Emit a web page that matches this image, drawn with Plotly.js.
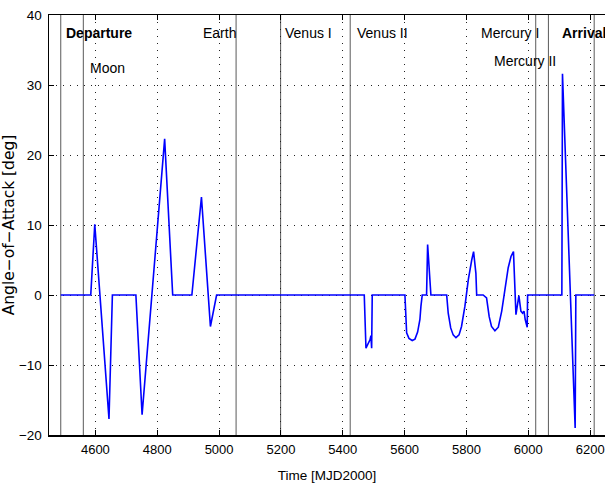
<!DOCTYPE html>
<html>
<head>
<meta charset="utf-8">
<script src="https://cdn.plot.ly/plotly-3.0.1.min.js"></script>
<style>html,body{margin:0;padding:0;background:#fff;} #chart{width:605px;height:488px;}</style>
</head>
<body>
<div id="chart"></div>
<script>
// Time [MJD2000] of the sampled angle-of-attack profile
const timeMJD = [
  4488, 4585, 4598, 4644, 4655, 4731, 4751, 4824, 4850, 4912, 4943, 4972, 4992,
  5469.5, 5475, 5482, 5488, 5491, 5493.4, 5495.3,
  5601, 5606.5, 5614, 5624.6, 5633.4, 5642, 5649.5, 5652.8, 5657,
  5671, 5674.4, 5685,
  5736, 5741, 5749, 5757, 5766, 5776, 5784, 5795, 5806, 5817, 5823, 5830.5, 5833,
  5854, 5865, 5873.5, 5881, 5892, 5903, 5914, 5924, 5935, 5944, 5952, 5960,
  5969.5, 5976, 5981.5, 5986, 5990, 5996.4, 5997.7,
  6108.5, 6110.5, 6151.5, 6153.7, 6213
];
// Angle-of-attack [deg]
const angleDeg = [
  0, 0, 10.1, -17.7, 0, 0, -17.1, 22.3, 0, 0, 14.0, -4.5, 0,
  0, -7.6, -7.0, -6.4, -5.8, -7.6, 0,
  0, -5.4, -6.2, -6.5, -6.3, -5.3, -3.5, -1.6, 0,
  0, 7.2, 0,
  0, -2.6, -4.7, -5.7, -6.1, -5.7, -4.5, -1.6, 2.2, 5.0, 6.2, 3.1, 0,
  0, -0.4, -3.1, -4.5, -5.1, -4.6, -2.3, 0.8, 3.9, 5.5, 6.2, -2.8,
  -0.1, -2.3, -2.6, -2.3, -3.5, -4.6, 0,
  0, 31.6, -19.0, 0, 0
];
// Phase boundaries [MJD2000]
const phaseDays = [4488, 4561, 5055, 5199, 5424, 6024, 6065, 6213];
// Phase labels
const labelTexts = ["<b>Departure</b>", "Moon", "Earth", "Venus I", "Venus II", "Mercury I", "Mercury II", "<b>Arrival</b>"];
const labelDays  = [4500, 4576, 4940, 5208, 5438, 5842, 5883, 6104];
const labelAngle = [37.5, 32.4, 37.5, 37.5, 37.5, 37.5, 33.4, 37.5];

const xTicks = [4600, 4800, 5000, 5200, 5400, 5600, 5800, 6000, 6200];
const yTicks = [-20, -10, 0, 10, 20, 30, 40];

const sans = "Liberation Sans, Arial, sans-serif";

const trace = {
  x: timeMJD, y: angleDeg, type: 'scatter', mode: 'lines',
  line: {color: '#0000ff', width: 1.6}, hoverinfo: 'skip'
};

const shapes = phaseDays.map(d => ({
  type: 'line', xref: 'x', yref: 'paper', x0: d, x1: d, y0: 0, y1: 1,
  line: {color: '#5a5a5a', width: 1}, layer: 'below'
}));

const annotations = labelTexts.map((t, i) => ({
  text: t, x: labelDays[i], y: labelAngle[i], xref: 'x', yref: 'y',
  xanchor: 'left', yanchor: 'middle', showarrow: false,
  font: {family: sans, size: 14, color: '#000'}
}));

const layout = {
  width: 605, height: 488,
  margin: {l: 49, r: 0, t: 15, b: 53, pad: 0},
  paper_bgcolor: '#fff', plot_bgcolor: '#fff',
  showlegend: false,
  xaxis: {
    range: [4450, 6248], tickvals: xTicks, ticktext: xTicks.map(String),
    ticks: 'inside', ticklen: 5, tickcolor: '#000', tickwidth: 1,
    showline: true, linecolor: '#000', linewidth: 1.5, mirror: 'ticks',
    showgrid: true, gridcolor: '#222', gridwidth: 1, griddash: '1px,6px',
    zeroline: false,
    tickfont: {family: sans, size: 13, color: '#000'},
    ticklabelstandoff: 2,
    title: {text: 'Time [MJD2000]', font: {family: sans, size: 13.5, color: '#000'}, standoff: 14}
  },
  yaxis: {
    range: [-20, 40], tickvals: yTicks,
    ticks: 'inside', ticklen: 5, tickcolor: '#000', tickwidth: 1,
    showline: true, linecolor: '#000', linewidth: 1.5, mirror: 'ticks',
    showgrid: true, gridcolor: '#222', gridwidth: 1, griddash: '1px,6px',
    zeroline: false,
    tickfont: {family: sans, size: 13.5, color: '#000'},
    ticklabelstandoff: 3,
    title: {text: 'Angle−of−Attack [deg]', font: {family: 'DejaVu Sans, sans-serif', size: 15.5, color: '#000'}, standoff: 8}
  },
  shapes: shapes,
  annotations: annotations
};

Plotly.newPlot('chart', [trace], layout, {staticPlot: true, displayModeBar: false});
</script>
</body>
</html>
